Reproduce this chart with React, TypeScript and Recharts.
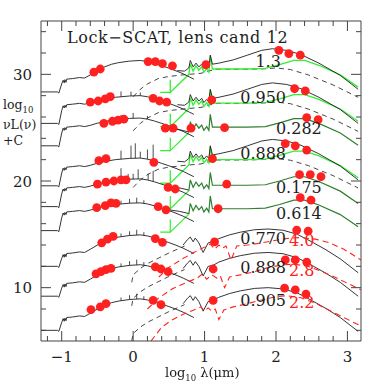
import { ComposedChart, Line, Scatter, XAxis, YAxis } from 'recharts'

type Pt = [number, number]

const FONT = '"DejaVu Serif", serif'
const INK = '#1e1e1e'
const FRAME = '#444'
const LIME = '#33ee33'
const DARK_GREEN = '#2f7f2f'
const RED = '#ff2020'

// fitted redshift of each object, top to bottom
const Z_FIT = ['1.3', '0.950', '0.282', '0.888', '0.175', '0.614', '0.770', '0.888', '0.905']
const Z_FIT_POS: Pt[] = [
  [1.89, 31.2], [1.82, 27.85], [2.32, 24.95], [1.82, 22.6], [2.32, 19.35],
  [2.32, 17.0], [1.82, 14.6], [1.82, 11.85], [1.82, 8.8],
]
// alternative (high-z) solutions for the last three objects
const Z_ALT = ['4.0', '2.8', '2.2']
const Z_ALT_POS: Pt[] = [[2.36, 14.4], [2.36, 11.6], [2.36, 8.6]]

// stellar peak level (log nuLnu + C) and template family
const STELLAR_PEAK = [31.3, 28.0, 25.9, 22.15, 20.2, 17.95, 14.95, 12.15, 8.95]
const STELLAR_KIND = ['old', 'young', 'young', 'young', 'young', 'young', 'old', 'old', 'old']
// infrared level: starburst plateau, or dust peak for the agn fits
const IR_LEVEL = [30.5, 27.3, 25.05, 22.0, 19.6, 17.4, 15.5, 13.3, 10.0]
const IR_KIND = ['sb+cirrus', 'sb+cirrus', 'sb', 'sb+cirrus', 'sb', 'sb', 'agn', 'agn', 'agn']

// templates: [log lambda, offset from level]
const STELLAR_OLD: Pt[] = [
  [-1.29, -2.95], [-1.06, -2.95], [-1.04, -3.05], [-1.0, -2.2], [-0.98, -1.85], [-0.965, -2.1],
  [-0.955, -1.8], [-0.94, -2.05], [-0.93, -1.75], [-0.85, -1.7], [-0.75, -1.6], [-0.68, -1.65],
  [-0.6, -1.35], [-0.5, -0.95], [-0.4, -0.6], [-0.3, -0.35], [-0.2, -0.2], [-0.05, -0.06],
  [0.1, 0], [0.2, -0.1], [0.3, -0.28], [0.4, -0.5], [0.5, -0.72], [0.6, -0.97], [0.7, -1.25], [0.85, -1.75],
]
const STELLAR_YOUNG: Pt[] = [
  [-1.29, -2.6], [-1.06, -2.6], [-1.04, -2.7], [-1.0, -1.4], [-0.98, -0.95], [-0.965, -1.15],
  [-0.955, -0.9], [-0.94, -1.1], [-0.93, -0.85], [-0.85, -0.8], [-0.75, -0.72], [-0.68, -0.8],
  [-0.6, -0.68], [-0.5, -0.48], [-0.4, -0.32], [-0.25, -0.15], [-0.05, -0.03],
  [0.1, 0], [0.2, -0.1], [0.3, -0.28], [0.4, -0.5], [0.5, -0.72], [0.6, -0.97], [0.7, -1.25], [0.85, -1.75],
]
const STARBURST: Pt[] = [
  [0.38, -2.2], [0.52, -2.2], [0.52, -1.0], [0.52, -2.2], [0.78, -0.5], [0.8, 0.5], [0.84, -0.2],
  [0.88, 0.3], [0.92, -0.1], [0.96, 0.2], [0.99, -0.3], [1.03, 0.05], [1.06, -0.3], [1.08, 1.2],
  [1.11, 0], [1.3, 0], [1.6, 0], [1.85, 0.05], [2.05, 0.4], [2.25, 0.8], [2.4, 0.8], [2.6, 0.35],
  [2.9, -0.55], [3.15, -1.7],
]
const TOTAL_SB_CIRRUS: Pt[] = [
  [0.62, -0.15], [0.72, -0.2], [0.78, 0.1], [0.8, 0.8], [0.84, 0.2], [0.88, 0.55], [0.92, 0.2],
  [0.96, 0.45], [0.99, 0.05], [1.03, 0.35], [1.06, 0.1], [1.08, 1.3], [1.11, 0.45], [1.2, 0.55],
  [1.4, 0.85], [1.6, 1.3], [1.8, 1.75], [1.95, 1.9], [2.15, 1.75], [2.35, 1.35], [2.6, 0.55],
  [2.9, -0.6], [3.15, -1.9],
]
const CIRRUS: Pt[] = [
  [0.0, -2.6], [0.1, -1.9], [0.2, -1.4], [0.35, -0.9], [0.5, -0.7], [0.7, -0.55], [0.95, -0.4],
  [1.15, -0.03], [1.6, -0.03], [1.85, 0.02], [2.0, 0.1], [2.2, -0.05], [2.45, -0.55], [2.8, -1.5], [3.15, -2.65],
]
const JOIN_SB: Pt[] = [[0.5, -0.1], [0.65, -0.25], [0.78, -0.45]]
const AGN_IR: Pt[] = [
  [0.7, -1.5], [0.76, -1.0], [0.8, -0.75], [0.84, -1.2], [0.87, -0.85], [0.92, -1.3], [0.98, -2.2],
  [1.05, -1.3], [1.12, -1.2], [1.2, -0.9], [1.35, -0.55], [1.5, -0.3], [1.7, -0.07], [1.89, 0],
  [2.1, -0.12], [2.3, -0.5], [2.5, -1.2], [2.7, -1.95], [2.9, -2.8], [3.15, -4.1],
]
const TORUS: Pt[] = [
  [-0.02, -5.0], [0.0, -4.3], [0.1, -3.7], [0.2, -3.25], [0.35, -2.75], [0.5, -2.25], [0.65, -1.8], [0.72, -1.6],
]

// alternative high-z fits (red dashed)
const ALT_Z40: Pt[] = [
  [0.36, 11.0], [0.5, 11.9], [0.69, 12.7], [0.85, 13.3], [1.0, 13.8], [1.08, 14.1], [1.14, 13.6],
  [1.2, 14.0], [1.25, 13.7], [1.3, 13.9], [1.37, 12.6], [1.45, 13.9], [1.6, 14.0], [1.8, 14.2],
  [2.0, 14.45], [2.2, 14.65], [2.35, 14.7], [2.55, 14.55], [2.75, 14.2], [2.95, 13.6], [3.19, 12.6],
]
const ALT_Z28: Pt[] = [
  [0.2, 8.0], [0.35, 9.0], [0.55, 9.9], [0.75, 10.5], [0.9, 10.9], [0.97, 11.3], [1.03, 10.8],
  [1.1, 11.2], [1.17, 10.9], [1.22, 11.1], [1.28, 10.0], [1.35, 11.0], [1.5, 11.2], [1.7, 11.5],
  [1.9, 11.9], [2.1, 12.15], [2.25, 12.2], [2.45, 12.0], [2.65, 11.5], [2.85, 10.9], [3.19, 9.8],
]
const ALT_Z22: Pt[] = [
  [0.25, 5.0], [0.4, 6.3], [0.55, 7.0], [0.7, 7.5], [0.85, 7.9], [0.95, 8.2], [1.0, 7.8],
  [1.05, 8.1], [1.1, 7.8], [1.15, 8.0], [1.2, 7.0], [1.27, 7.9], [1.4, 8.2], [1.6, 8.5],
  [1.8, 8.85], [2.0, 9.15], [2.15, 9.25], [2.35, 9.05], [2.55, 8.55], [2.8, 7.7], [3.19, 6.4],
]
const ALT_SED = [ALT_Z40, ALT_Z28, ALT_Z22]
const ALT_ROW = [6, 7, 8]

// emission lines on the stellar part: [log lambda, height]
const EMISSION: Pt[][] = [
  [],
  [[-0.3, 0.35], [-0.17, 0.5], [-0.03, 0.4], [0.1, 0.3]],
  [[-0.17, 0.4], [0.0, 0.5], [0.2, 0.3]],
  [[-0.17, 0.8], [-0.03, 1.2], [0.03, 1.4], [0.1, 0.6], [0.2, 0.9], [0.28, 1.5]],
  [[-0.17, 1.1], [-0.07, 0.5], [0.0, 0.5], [0.07, 0.9], [0.21, 0.6], [0.28, 1.0]],
  [[-0.17, 0.3], [-0.05, 0.4], [0.05, 0.5], [0.15, 0.3]],
  [[-0.17, 0.3], [-0.05, 0.4], [0.05, 0.5], [0.15, 0.3]],
  [[-0.17, 0.3], [-0.05, 0.4], [0.05, 0.5], [0.15, 0.3]],
  [[-0.17, 0.3], [-0.05, 0.4], [0.05, 0.5], [0.15, 0.3]],
]

// photometry
const PHOT: Pt[][] = [
  [[-0.55, 30.2], [-0.46, 30.5], [0.21, 31.2], [0.31, 31.2], [0.41, 31.0], [0.55, 30.8], [1.02, 30.9], [2.04, 32.25], [2.18, 31.95], [2.34, 31.8]],
  [[-0.6, 27.4], [-0.49, 27.5], [-0.39, 27.7], [-0.32, 27.9], [0.28, 27.75], [0.37, 27.5], [0.47, 27.4], [1.1, 27.6], [2.26, 28.65], [2.41, 28.45]],
  [[-0.41, 25.4], [-0.29, 25.6], [-0.21, 25.7], [-0.13, 25.8], [0.45, 24.95], [0.56, 24.95], [0.81, 24.95], [1.28, 25.0], [2.43, 25.95], [2.59, 25.75]],
  [[-0.48, 21.9], [-0.38, 22.1], [0.29, 21.75], [1.11, 22.1], [2.13, 23.5], [2.27, 23.3], [2.43, 22.9]],
  [[-0.5, 19.7], [-0.38, 19.9], [-0.27, 20.0], [-0.17, 20.1], [-0.1, 20.1], [0.49, 19.4], [0.59, 19.25], [1.31, 19.7], [2.33, 20.6], [2.48, 20.6], [2.63, 20.4]],
  [[-0.51, 17.5], [-0.39, 17.7], [-0.31, 17.95], [-0.24, 17.9], [0.35, 17.6], [0.46, 17.3], [1.19, 17.4], [2.34, 18.45], [2.49, 18.2]],
  [[-0.44, 14.2], [-0.36, 14.55], [-0.28, 14.8], [0.31, 14.6], [0.41, 14.25], [1.14, 14.3], [2.29, 15.4], [2.45, 15.3]],
  [[-0.52, 11.3], [-0.45, 11.5], [-0.38, 11.7], [-0.31, 11.8], [0.31, 11.95], [0.39, 11.75], [0.49, 11.5], [1.12, 11.75], [2.13, 12.6], [2.27, 12.6], [2.43, 12.4]],
  [[-0.59, 7.95], [-0.46, 8.2], [-0.38, 8.5], [0.28, 8.8], [0.39, 8.4], [1.12, 8.8], [2.12, 9.95], [2.27, 9.8], [2.42, 9.4]],
]

const X_TICKS = [-1.2, -1, -0.8, -0.6, -0.4, -0.2, 0, 0.2, 0.4, 0.6, 0.8, 1, 1.2, 1.4, 1.6, 1.8, 2, 2.2, 2.4, 2.6, 2.8, 3]
const X_LABELED = [-1, 0, 1, 2, 3]
const Y_TICKS = [6, 8, 10, 12, 14, 16, 18, 20, 22, 24, 26, 28, 30, 32, 34]
const Y_LABELED = [10, 20, 30]

type Row = { x: number; y: number | null }

const place = (tpl: Pt[], level: number, lo = -9, hi = 9): Row[] =>
  tpl.filter(([x]) => x >= lo && x <= hi).map(([x, d]) => ({ x, y: level + d }))

const interp = (tpl: Pt[], x: number) => {
  for (let i = 1; i < tpl.length; i++) {
    const [x0, y0] = tpl[i - 1]
    const [x1, y1] = tpl[i]
    if (x >= x0 && x <= x1) return x1 === x0 ? y1 : y0 + ((y1 - y0) * (x - x0)) / (x1 - x0)
  }
  return 0
}

type Curve = { key: string; data: Row[]; color: string; width: number; dash?: string }

function buildCurves(): Curve[] {
  const out: Curve[] = []
  Z_FIT.forEach((_, i) => {
    const tpl = STELLAR_KIND[i] === 'old' ? STELLAR_OLD : STELLAR_YOUNG
    const peak = STELLAR_PEAK[i]
    const lvl = IR_LEVEL[i]
    const kind = IR_KIND[i]
    if (kind === 'sb+cirrus') {
      out.push({ key: `cir${i}`, data: place(CIRRUS, lvl), color: '#333', width: 0.9, dash: '5 4' })
      out.push({ key: `sb${i}`, data: place(STARBURST, lvl), color: LIME, width: 1.3 })
      out.push({ key: `tot${i}`, data: place(TOTAL_SB_CIRRUS, lvl), color: INK, width: 0.9 })
    } else if (kind === 'sb') {
      out.push({ key: `sbl${i}`, data: place(STARBURST, lvl, -9, 0.78), color: LIME, width: 1.2 })
      out.push({ key: `join${i}`, data: place(JOIN_SB, lvl), color: INK, width: 0.9 })
      out.push({ key: `sbd${i}`, data: place(STARBURST, lvl, 0.78), color: DARK_GREEN, width: 1.2 })
    } else {
      out.push({ key: `tor${i}`, data: place(TORUS, lvl), color: '#333', width: 0.9, dash: '5 4' })
      out.push({ key: `agn${i}`, data: place(AGN_IR, lvl), color: INK, width: 0.9 })
    }
    out.push({ key: `st${i}`, data: place(tpl, peak), color: INK, width: 0.9 })
    const lines: Row[] = EMISSION[i].flatMap(([x, h]) => {
      const b = peak + interp(tpl, x)
      return [{ x, y: b }, { x, y: b + h }, { x, y: null }]
    })
    if (lines.length) out.push({ key: `em${i}`, data: lines, color: INK, width: 0.8 })
  })
  ALT_SED.forEach((sed, k) => {
    out.push({ key: `alt${ALT_ROW[k]}`, data: place(sed, 0), color: RED, width: 1.1, dash: '6 4' })
  })
  return out
}

const isOn = (v: number, list: number[]) => list.some(l => Math.abs(l - v) < 1e-6)
const fmt = (v: number) => (v < 0 ? `\u2212${-v}` : `${v}`)

function BottomTick(p: any) {
  const v = p.payload.value
  const major = isOn(v, X_LABELED)
  return (
    <g>
      <line x1={p.x} x2={p.x} y1={p.y} y2={p.y - (major ? 10 : 5)} stroke={FRAME} />
      {major && (
        <text x={p.x} y={p.y + 21} textAnchor="middle" fontSize={15} fontFamily={FONT} fill={INK}>
          {fmt(v)}
        </text>
      )}
    </g>
  )
}
function TopTick(p: any) {
  const major = isOn(p.payload.value, X_LABELED)
  return <line x1={p.x} x2={p.x} y1={p.y} y2={p.y + (major ? 10 : 5)} stroke={FRAME} />
}
function LeftTick(p: any) {
  const v = p.payload.value
  const major = isOn(v, Y_LABELED)
  return (
    <g>
      <line x1={p.x} x2={p.x + (major ? 10 : 5)} y1={p.y} y2={p.y} stroke={FRAME} />
      {major && (
        <text x={p.x - 9} y={p.y + 5.5} textAnchor="end" fontSize={15} fontFamily={FONT} fill={INK}>
          {v}
        </text>
      )}
    </g>
  )
}
function RightTick(p: any) {
  const major = isOn(p.payload.value, Y_LABELED)
  return <line x1={p.x} x2={p.x - (major ? 10 : 5)} y1={p.y} y2={p.y} stroke={FRAME} />
}

const dotShape = (p: any) => <circle cx={p.cx} cy={p.cy} r={4.4} fill={RED} />
const textShape = (p: any) => (
  <text
    x={p.cx}
    y={p.cy + 5.5}
    textAnchor="middle"
    fontSize={16}
    fontFamily={FONT}
    fill={p.payload.c}
  >
    {p.payload.t}
  </text>
)

export default function App() {
  const curves = buildCurves()
  const dots = PHOT.flat().map(([x, y]) => ({ x, y }))
  const labels = [
    ...Z_FIT.map((t, i) => ({ x: Z_FIT_POS[i][0], y: Z_FIT_POS[i][1], t, c: INK })),
    ...Z_ALT.map((t, i) => ({ x: Z_ALT_POS[i][0], y: Z_ALT_POS[i][1], t, c: RED })),
  ]
  const xDomain: [number, number] = [-1.29, 3.19]
  const yDomain: [number, number] = [5, 35]

  return (
    <div style={{ position: 'fixed', left: 0, top: 0, width: 382, height: 382, background: '#fff' }}>
      <ComposedChart width={382} height={382} margin={{ top: 20, right: 20, bottom: 40, left: 40 }}>
        <XAxis
          dataKey="x" type="number" domain={xDomain} allowDataOverflow ticks={X_TICKS} interval={0}
          height={1} tickSize={0} tickMargin={0} tickLine={false} tick={BottomTick}
          axisLine={{ stroke: FRAME }}
        />
        <XAxis
          xAxisId="top" orientation="top" dataKey="x" type="number" domain={xDomain} allowDataOverflow
          ticks={X_TICKS} interval={0} height={1} tickSize={0} tickMargin={0} tickLine={false}
          tick={TopTick} axisLine={{ stroke: FRAME }}
        />
        <YAxis
          dataKey="y" type="number" domain={yDomain} allowDataOverflow ticks={Y_TICKS} interval={0}
          width={1} tickSize={0} tickMargin={0} tickLine={false} tick={LeftTick}
          axisLine={{ stroke: FRAME }}
        />
        <YAxis
          yAxisId="right" orientation="right" dataKey="y" type="number" domain={yDomain} allowDataOverflow
          ticks={Y_TICKS} interval={0} width={1} tickSize={0} tickMargin={0} tickLine={false}
          tick={RightTick} axisLine={{ stroke: FRAME }}
        />
        {curves.map(c => (
          <Line
            key={c.key}
            data={c.data}
            dataKey="y"
            type="linear"
            stroke={c.color}
            strokeWidth={c.width}
            strokeDasharray={c.dash}
            dot={false}
            activeDot={false}
            connectNulls={false}
            isAnimationActive={false}
          />
        ))}
        <Scatter data={dots} dataKey="y" shape={dotShape} isAnimationActive={false} />
        <Scatter data={labels} dataKey="y" shape={textShape} isAnimationActive={false} />
        {/* invisible anchor so the mirrored frame axes get a domain */}
        <Scatter xAxisId="top" yAxisId="right" data={dots} dataKey="y" shape={() => <g />} isAnimationActive={false} />
      </ComposedChart>

      <div style={{ position: 'absolute', left: 67, top: 30, fontFamily: FONT, fontSize: 16, letterSpacing: 0.6, lineHeight: 1, color: INK, whiteSpace: 'nowrap' }}>
        Lock{'\u2212'}SCAT, lens cand 12
      </div>
      <div style={{ position: 'absolute', left: 3, top: 99, fontFamily: FONT, fontSize: 12.5, lineHeight: 1, color: INK, whiteSpace: 'nowrap' }}>
        log<sub style={{ fontSize: 8.5, lineHeight: 1 }}>10</sub>
      </div>
      <div style={{ position: 'absolute', left: 3, top: 119, fontFamily: FONT, fontSize: 12.5, lineHeight: 1, color: INK, whiteSpace: 'nowrap' }}>
        {'\u03bd'}L({'\u03bd'})
      </div>
      <div style={{ position: 'absolute', left: 3, top: 135, fontFamily: FONT, fontSize: 12.5, lineHeight: 1, color: INK, whiteSpace: 'nowrap' }}>
        +C
      </div>
      <div style={{ position: 'absolute', left: 165, top: 366, fontFamily: FONT, fontSize: 13, lineHeight: 1, color: INK, whiteSpace: 'nowrap' }}>
        log<sub style={{ fontSize: 8.5, lineHeight: 1 }}>10</sub> {'\u03bb'}({'\u03bc'}m)
      </div>
    </div>
  )
}
